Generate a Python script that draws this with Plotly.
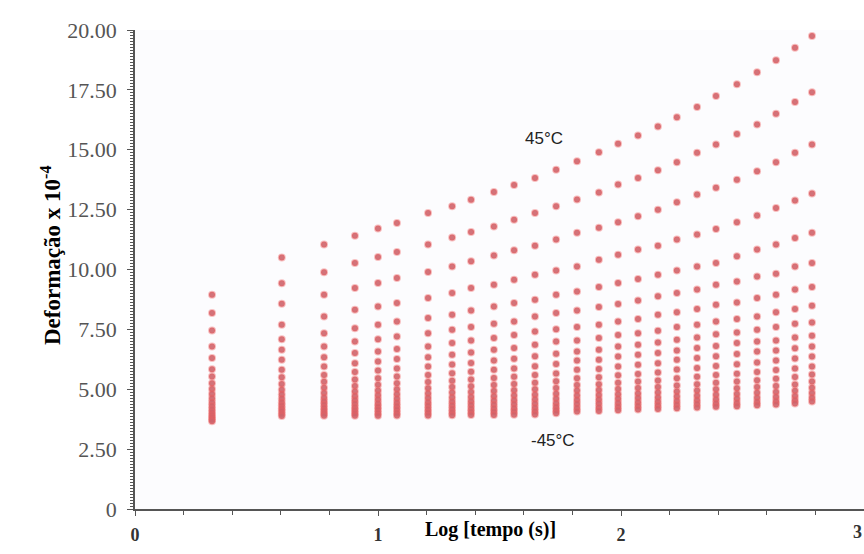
import plotly.graph_objects as go

# Log(time) of each measurement column
log_tempo = [0.317, 0.604, 0.778, 0.905, 1.000, 1.078, 1.206, 1.305, 1.383, 1.477,
             1.560, 1.646, 1.733, 1.819, 1.909, 1.988, 2.070, 2.152, 2.230, 2.313,
             2.391, 2.477, 2.560, 2.638, 2.716, 2.786]

# Temperatures (top curve 45 °C ... bottom curve -45 °C)
temperaturas = [45, 40, 35, 30, 25, 20, 15, 10, 5, 0, -5, -10, -15, -20, -25, -30, -35, -40, -45]

# Deformation (x 10^-4) in each column, ordered from 45 °C down to -45 °C
col_01 = [8.95, 8.18, 7.45, 6.79, 6.30, 5.84, 5.53, 5.25, 5.01, 4.80, 4.61, 4.45, 4.30, 4.16, 4.04, 3.93, 3.83, 3.74, 3.66]
col_02 = [10.50, 9.43, 8.57, 7.69, 7.09, 6.65, 6.23, 5.81, 5.50, 5.22, 4.98, 4.78, 4.60, 4.45, 4.32, 4.20, 4.09, 3.98, 3.88]
col_03 = [11.04, 9.88, 8.95, 8.04, 7.34, 6.79, 6.34, 5.95, 5.60, 5.31, 5.06, 4.84, 4.65, 4.49, 4.35, 4.22, 4.10, 3.99, 3.89]
col_04 = [11.41, 10.27, 9.23, 8.32, 7.55, 6.99, 6.51, 6.09, 5.72, 5.41, 5.14, 4.91, 4.71, 4.54, 4.39, 4.25, 4.12, 4.00, 3.89]
col_05 = [11.71, 10.52, 9.44, 8.46, 7.69, 7.09, 6.58, 6.16, 5.78, 5.46, 5.19, 4.95, 4.75, 4.57, 4.41, 4.27, 4.14, 4.01, 3.89]
col_06 = [11.94, 10.73, 9.65, 8.60, 7.83, 7.20, 6.68, 6.26, 5.87, 5.53, 5.25, 5.00, 4.79, 4.60, 4.44, 4.29, 4.15, 4.02, 3.90]
col_07 = [12.36, 11.04, 9.90, 8.81, 7.97, 7.34, 6.79, 6.34, 5.95, 5.60, 5.30, 5.04, 4.82, 4.63, 4.46, 4.31, 4.17, 4.03, 3.90]
col_08 = [12.64, 11.34, 10.13, 9.02, 8.11, 7.48, 6.93, 6.44, 6.03, 5.67, 5.36, 5.09, 4.86, 4.66, 4.48, 4.32, 4.18, 4.04, 3.91]
col_09 = [12.91, 11.57, 10.34, 9.23, 8.29, 7.60, 7.04, 6.53, 6.10, 5.73, 5.41, 5.13, 4.89, 4.68, 4.50, 4.34, 4.19, 4.05, 3.92]
col_10 = [13.24, 11.80, 10.58, 9.36, 8.46, 7.73, 7.14, 6.65, 6.20, 5.81, 5.47, 5.18, 4.93, 4.71, 4.52, 4.35, 4.20, 4.06, 3.93]
col_11 = [13.53, 12.08, 10.80, 9.57, 8.60, 7.83, 7.27, 6.72, 6.27, 5.87, 5.52, 5.22, 4.96, 4.74, 4.54, 4.37, 4.21, 4.07, 3.94]
col_12 = [13.82, 12.36, 10.99, 9.78, 8.74, 8.04, 7.41, 6.86, 6.38, 5.96, 5.59, 5.27, 5.00, 4.77, 4.57, 4.39, 4.23, 4.08, 3.95]
col_13 = [14.17, 12.64, 11.25, 9.96, 8.95, 8.18, 7.51, 6.99, 6.48, 6.05, 5.66, 5.33, 5.05, 4.81, 4.60, 4.42, 4.26, 4.12, 4.00]
col_14 = [14.52, 12.92, 11.53, 10.13, 9.08, 8.29, 7.60, 7.04, 6.58, 6.20, 5.81, 5.46, 5.18, 4.95, 4.74, 4.55, 4.38, 4.22, 4.07]
col_15 = [14.90, 13.22, 11.74, 10.41, 9.27, 8.43, 7.69, 7.14, 6.65, 6.23, 5.85, 5.50, 5.21, 4.97, 4.76, 4.57, 4.40, 4.24, 4.09]
col_16 = [15.25, 13.55, 11.97, 10.62, 9.44, 8.56, 7.83, 7.27, 6.79, 6.37, 5.95, 5.58, 5.27, 5.01, 4.79, 4.60, 4.43, 4.27, 4.12]
col_17 = [15.59, 13.82, 12.22, 10.83, 9.60, 8.71, 7.93, 7.34, 6.86, 6.44, 6.02, 5.64, 5.32, 5.05, 4.82, 4.63, 4.46, 4.30, 4.15]
col_18 = [15.97, 14.14, 12.50, 10.99, 9.78, 8.88, 8.11, 7.44, 6.95, 6.51, 6.09, 5.70, 5.37, 5.09, 4.86, 4.66, 4.48, 4.32, 4.18]
col_19 = [16.36, 14.48, 12.81, 11.25, 9.96, 9.02, 8.21, 7.60, 7.07, 6.62, 6.23, 5.82, 5.46, 5.16, 4.91, 4.70, 4.51, 4.35, 4.21]
col_20 = [16.79, 14.87, 13.13, 11.46, 10.13, 9.16, 8.35, 7.69, 7.16, 6.72, 6.30, 5.89, 5.52, 5.21, 4.95, 4.73, 4.54, 4.38, 4.24]
col_21 = [17.24, 15.22, 13.41, 11.69, 10.27, 9.36, 8.53, 7.83, 7.30, 6.81, 6.38, 5.97, 5.59, 5.27, 5.00, 4.77, 4.57, 4.41, 4.27]
col_22 = [17.74, 15.66, 13.75, 11.97, 10.55, 9.50, 8.62, 7.93, 7.37, 6.93, 6.47, 6.04, 5.65, 5.32, 5.04, 4.80, 4.60, 4.43, 4.29]
col_23 = [18.24, 16.05, 14.10, 12.25, 10.83, 9.71, 8.81, 8.04, 7.48, 6.99, 6.58, 6.12, 5.72, 5.38, 5.09, 4.85, 4.64, 4.47, 4.33]
col_24 = [18.74, 16.50, 14.48, 12.57, 11.04, 9.82, 8.95, 8.21, 7.60, 7.04, 6.62, 6.20, 5.80, 5.44, 5.14, 4.89, 4.68, 4.50, 4.36]
col_25 = [19.26, 16.99, 14.87, 12.88, 11.32, 10.13, 9.16, 8.35, 7.73, 7.16, 6.71, 6.28, 5.87, 5.51, 5.20, 4.94, 4.72, 4.54, 4.40]
col_26 = [19.75, 17.40, 15.22, 13.17, 11.53, 10.27, 9.27, 8.49, 7.79, 7.23, 6.79, 6.37, 5.95, 5.62, 5.32, 5.06, 4.84, 4.65, 4.49]

colunas = [col_01, col_02, col_03, col_04, col_05, col_06, col_07, col_08, col_09, col_10,
           col_11, col_12, col_13, col_14, col_15, col_16, col_17, col_18, col_19, col_20,
           col_21, col_22, col_23, col_24, col_25, col_26]

y_tickvals = [0, 2.5, 5, 7.5, 10, 12.5, 15, 17.5, 20]
y_ticktext = ["0", "2.50", "5.00", "7.50", "10.00", "12.50", "15.00", "17.50", "20.00"]
x_tickvals = [0, 1, 2]
x_ticktext = ["0", "1", "2"]

fig = go.Figure()
for i, temp in enumerate(temperaturas):
    fig.add_trace(go.Scatter(
        x=log_tempo,
        y=[c[i] for c in colunas],
        mode="markers",
        name=f"{temp}°C",
        showlegend=False,
        marker=dict(size=6, color="rgba(205,100,108,0.9)",
                    line=dict(width=2, color="rgba(240,95,95,0.38)")),
    ))

serif = "Liberation Serif, Times New Roman, serif"
sans = "Liberation Sans, Arial, sans-serif"
axis_color = "#555555"

fig.update_layout(
    width=864, height=554,
    margin=dict(l=135, r=0, t=30, b=45),
    paper_bgcolor="#ffffff",
    plot_bgcolor="#fcfcfe",
    xaxis=dict(
        range=[0, 3], showgrid=False, zeroline=False,
        showline=True, linecolor=axis_color, linewidth=1.5,
        ticks="outside", ticklen=5, tickwidth=1.2, tickcolor=axis_color,
        tickvals=x_tickvals, ticktext=x_ticktext,
        ticklabelstandoff=4,
        tickfont=dict(family=serif, size=18, color="#333333", weight="bold"),
        minor=dict(dtick=0.2, ticks="outside", ticklen=4, tickcolor=axis_color, showgrid=False),
    ),
    yaxis=dict(
        range=[0, 20], showgrid=False, zeroline=False,
        showline=True, linecolor=axis_color, linewidth=1.5,
        ticks="outside", ticklen=6, tickwidth=1.2, tickcolor=axis_color,
        tickvals=y_tickvals, ticktext=y_ticktext,
        ticklabelstandoff=6,
        tickfont=dict(family=serif, size=22, color="#555555"),
        minor=dict(dtick=0.125, ticks="outside", ticklen=3, tickcolor=axis_color, showgrid=False),
    ),
    annotations=[
        dict(text="<b>Log [tempo (s)]</b>", xref="paper", yref="paper",
             x=0.488, y=-0.071, showarrow=False,
             font=dict(family=serif, size=20, color="#000000")),
        dict(text="<b>Deformação x 10<sup>-4</sup></b>", xref="paper", yref="paper",
             x=-0.138, y=0.53, showarrow=False, textangle=-90,
             font=dict(family=serif, size=23, color="#000000")),
        dict(text="<b>3</b>", xref="x", yref="paper", x=3.0, y=-0.022, yanchor="top",
             xanchor="right", showarrow=False,
             font=dict(family=serif, size=18, color="#333333")),
        dict(text="45°C", xref="x", yref="y",
             x=1.683, y=15.47, showarrow=False,
             font=dict(family=sans, size=17, color="#222222")),
        dict(text="-45°C", xref="x", yref="y",
             x=1.72, y=2.86, showarrow=False,
             font=dict(family=sans, size=17, color="#222222")),
    ],
)

fig.write_html("out.html")
